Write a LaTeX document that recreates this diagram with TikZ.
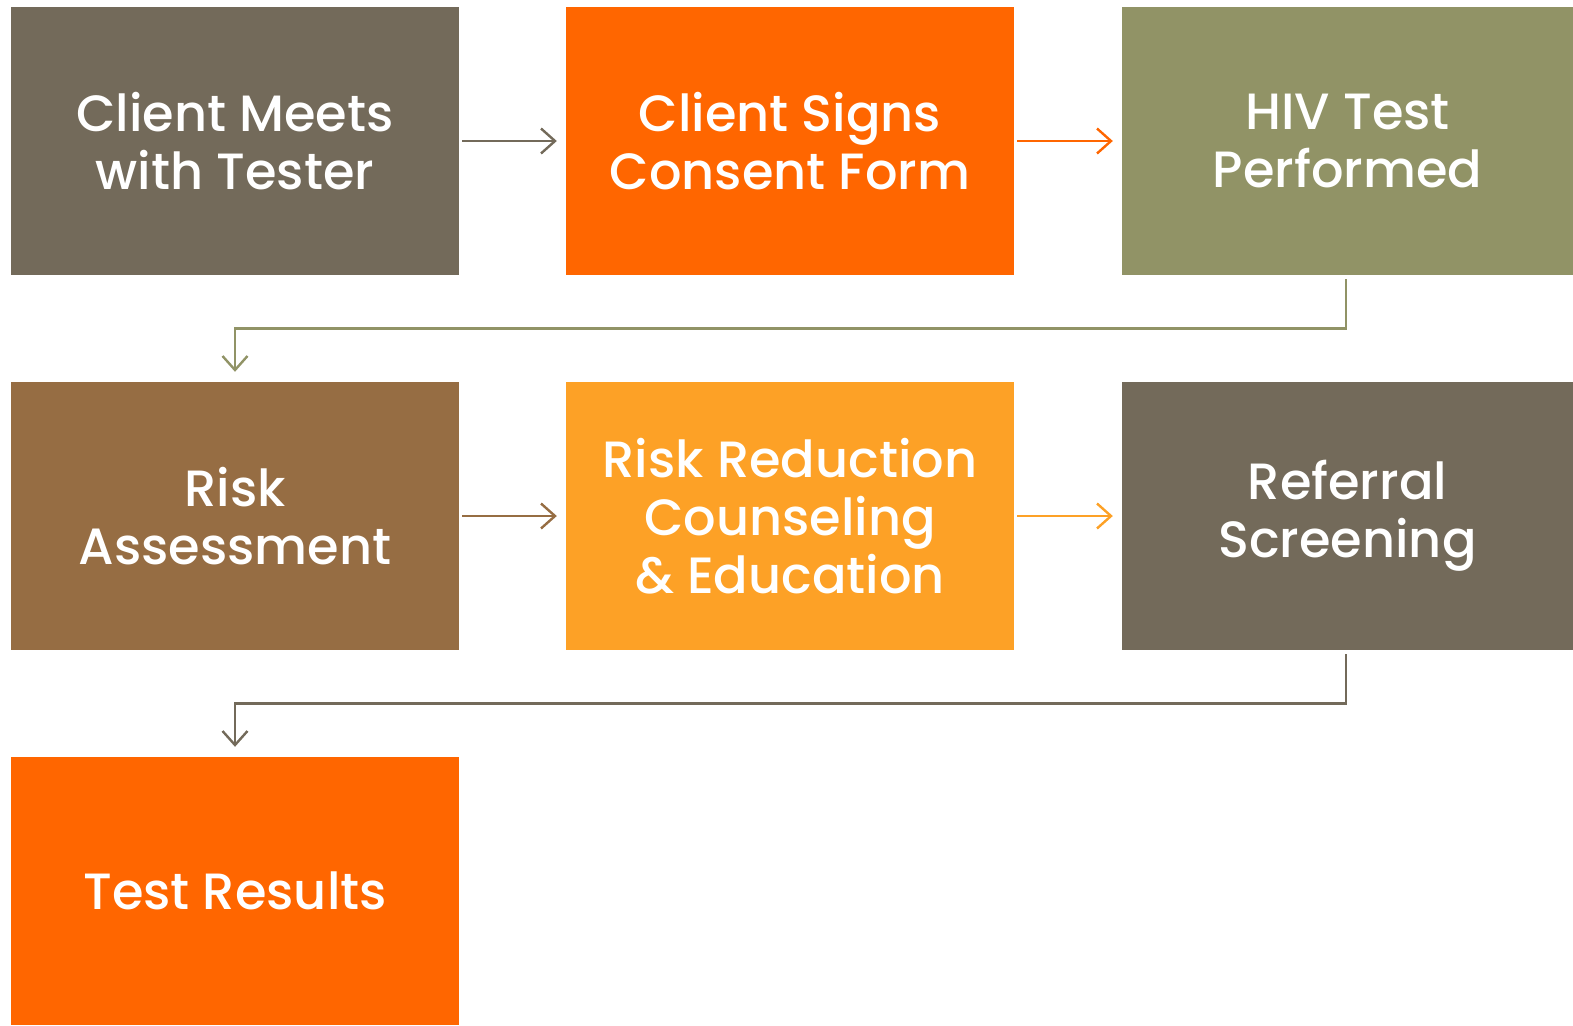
\documentclass[tikz,border=0pt]{standalone}
\usepackage{fontspec}
\setmainfont{Poppins}[UprightFont=* Medium]
\usetikzlibrary{arrows.meta}
\definecolor{cgray}{RGB}{115,106,90}
\definecolor{corange}{RGB}{255,102,0}
\definecolor{colive}{RGB}{145,147,102}
\definecolor{cbrown}{RGB}{150,109,67}
\definecolor{clight}{RGB}{253,161,38}
\begin{document}
\begin{tikzpicture}[x=1pt,y=-1pt,
  box/.style={minimum width=448pt,minimum height=268pt,inner sep=0pt,
    text=white,align=center,font=\fontsize{51}{58}\selectfont},
  tip/.style={-{Straight Barb[length=14pt,width=25pt,line width=2.4pt]}},
  link/.style={line width=2.4pt,tip},
  elbow/.style={line width=2.6pt,tip}]
\useasboundingbox (0,0) rectangle (1573,1025);
% first row
\node[box,fill=cgray]   (a) at (235,141) {Client Meets\\with Tester};
\node[box,fill=corange] (b) at (790,141) {Client Signs\\Consent Form};
\node[box,fill=colive,minimum width=451pt] (c) at (1347.5,141) {HIV Test\\Performed};
% second row
\node[box,fill=cbrown]  (d) at (235,516) {Risk\\Assessment};
\node[box,fill=clight]  (e) at (790,516) {Risk Reduction\\Counseling\\\& Education};
\node[box,fill=cgray,minimum width=451pt]   (f) at (1347.5,516) {Referral\\Screening};
% third row
\node[box,fill=corange] (g) at (235,891) {Test Results};
% connectors
\draw[link,cgray]   ([xshift=3pt]a.east) -- ([xshift=-9pt]b.west);
\draw[link,corange] ([xshift=3pt]b.east) -- ([xshift=-9pt]c.west);
\draw[link,cbrown]  ([xshift=3pt]d.east) -- ([xshift=-9pt]e.west);
\draw[link,clight]  ([xshift=3pt]e.east) -- ([xshift=-9pt]f.west);
\draw[elbow,colive] ([xshift=-1.5pt,yshift=-4pt]c.south) |- ++(0,49) -| ([yshift=10pt]d.north);
\draw[elbow,cgray]  ([xshift=-1.5pt,yshift=-4pt]f.south) |- ++(0,49) -| ([yshift=10pt]g.north);
\end{tikzpicture}
\end{document}
